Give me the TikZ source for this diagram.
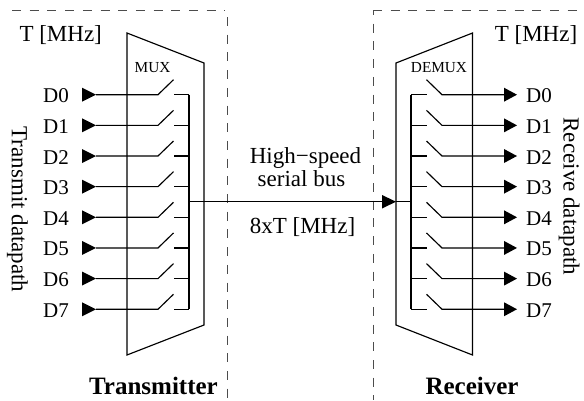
\documentclass[tikz,border=0pt]{standalone}
\usepackage{fontspec}
\setmainfont{Liberation Serif}
\begin{document}
\begin{tikzpicture}[x=1pt,y=-1pt,
  box/.style={draw,line width=1.15pt,line join=miter},
  wire/.style={draw,line width=1.15pt},
  bound/.style={draw,line width=0.8pt,black!70,dash pattern=on 9pt off 8.7pt},
  tri/.style={fill=black},
  lab/.style={font=\fontsize{23}{24}\selectfont,inner sep=0pt,anchor=base},
  dat/.style={font=\fontsize{21}{24}\selectfont,inner sep=0pt,anchor=base west},
  small/.style={font=\fontsize{15.3}{16}\selectfont,inner sep=0pt,anchor=base},
  head/.style={font=\fontsize{25}{26}\selectfont\bfseries,inner sep=0pt,anchor=base}]
\useasboundingbox (0,0) rectangle (584,400);
% boundaries
\coordinate (tl) at (12,10); \coordinate (tlc) at (225,10);
\coordinate (vl) at (227,17); \coordinate (bl) at (227,400);
\coordinate (tr) at (584,10); \coordinate (trc) at (373,10); \coordinate (br) at (373,400);
\path[bound] (tl) -- (tlc);
\path[bound] (vl) -- (bl);
\path[bound] (trc) -- (tr);
\path[bound,dash phase=4pt] (trc) -- (br);
% mux / demux
\coordinate (m1) at (127,33); \coordinate (m2) at (204,63); \coordinate (m3) at (204,325); \coordinate (m4) at (127,355);
\coordinate (d1) at (472.5,33); \coordinate (d2) at (396,63); \coordinate (d3) at (396,325); \coordinate (d4) at (472.5,355);
\path[box] (m1) -- (m2) -- (m3) -- (m4) -- cycle;
\path[box] (d1) -- (d2) -- (d3) -- (d4) -- cycle;
\node[small] (mux) at (152.5,72) {MUX};
\node[small] (demux) at (439,72) {DEMUX};
% rows
\foreach \i in {0,...,7}{
  \pgfmathsetmacro{\yy}{94.7+30.65*\i}
  \coordinate (ta\i) at (82,\yy-7);
  \coordinate (tb\i) at (82,\yy+7);
  \coordinate (ti\i) at (96,\yy);
  \coordinate (sa\i) at (158,\yy);
  \coordinate (sb\i) at (173.5,\yy-15);
  \coordinate (sc\i) at (174,\yy);
  \coordinate (sd\i) at (189,\yy);
  \fill[tri] (ta\i) -- (ti\i) -- (tb\i) -- cycle;
  \path[wire] (ti\i) -- (sa\i) -- (sb\i);
  \path[wire] (sc\i) -- (sd\i);
  \node[dat] (dl\i) at (43,\yy+8) {D\i};
  % receiver
  \coordinate (ra\i) at (411,\yy);
  \coordinate (rb\i) at (426.5,\yy);
  \coordinate (rc\i) at (426.5,\yy-15);
  \coordinate (rd\i) at (442,\yy);
  \coordinate (re\i) at (504,\yy);
  \coordinate (rf\i) at (517,\yy);
  \coordinate (rg\i) at (504,\yy-7);
  \coordinate (rh\i) at (504,\yy+7);
  \path[wire] (ra\i) -- (rb\i);
  \path[wire] (rc\i) -- (rd\i) -- (re\i);
  \fill[tri] (rg\i) -- (rf\i) -- (rh\i) -- cycle;
  \node[dat] (dr\i) at (526,\yy+8) {D\i};
}
\path[wire] (sd0) -- (sd7);
\path[wire] (ra0) -- (ra7);
% bus
\coordinate (bs) at (189,201.7);
\coordinate (be) at (382,201.7);
\coordinate (bt) at (396,201.7);
\coordinate (rb) at (411,201.7);
\coordinate (bu) at (382,195);
\coordinate (bd) at (382,208.5);
\path[wire,line width=1pt] (bs) -- (be);
\path[wire] (bt) -- (rb);
\fill[tri] (bu) -- (bt) -- (bd) -- cycle;
% labels
\node[lab] (tf1) at (60.7,41.5) {T [MHz]};
\node[lab] (tf2) at (536,41.5) {T [MHz]};
\node[lab,rotate=-90] (txd) at (12,209.5) {Transmit datapath};
\node[lab,rotate=-90] (rxd) at (563.5,196.5) {Receive datapath};
\node[lab] (hs1) at (305.5,163) {High−speed};
\node[lab] (hs2) at (301.5,186.5) {serial bus};
\node[lab] (rate) at (302.5,233) {8xT [MHz]};
\node[head] (tx) at (153.5,394) {Transmitter};
\node[head] (rx) at (472,394) {Receiver};
\end{tikzpicture}
\end{document}
